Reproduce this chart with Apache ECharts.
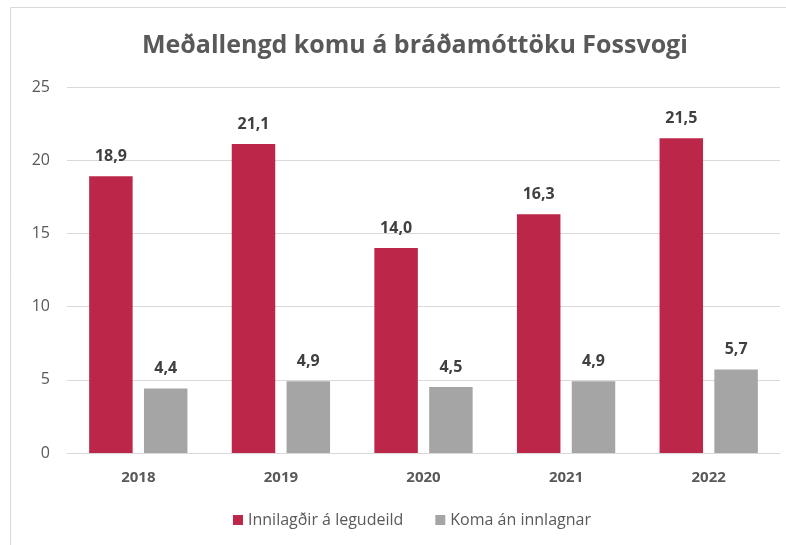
<!DOCTYPE html>
<html><head><meta charset="utf-8">
<script src="https://cdn.jsdelivr.net/npm/echarts@6/dist/echarts.min.js"></script>
<style>html,body{margin:0;padding:0;background:#fff}#c{width:786px;height:545px}</style>
</head><body><div id="c"></div>
<script>
const title = 'Meðallengd komu á bráðamóttöku Fossvogi';
const categories = ['2018','2019','2020','2021','2022'];
const seriesNames = ['Innilagðir á legudeild','Koma án innlagnar'];
const innilagdir = [18.9, 21.1, 14.0, 16.3, 21.5];
const komaAn = [4.4, 4.9, 4.5, 4.9, 5.7];
const yTicks = [0, 5, 10, 15, 20, 25];

const font = '"Open Sans", "Liberation Sans", sans-serif';
const chart = echarts.init(document.getElementById('c'), null, {renderer:'canvas'});
const fmt = p => p.value.toFixed(1).replace('.', ',');
const labelCfg = {show:true, position:'top', distance:12, formatter:fmt, color:'#404040', fontWeight:'bold', fontSize:16, fontFamily:font};
chart.setOption({
  animation:false,
  textStyle:{fontFamily:font},
  title:{text:title, left:137, top:28, textStyle:{fontSize:25, fontWeight:'bold', color:'#595959', fontFamily:font}},
  graphic:[{type:'rect', shape:{x:10.5, y:7.5, width:900, height:700}, style:{fill:'none', stroke:'#D9D9D9', lineWidth:1}, silent:true}],
  legend:{bottom:12, left:228, itemWidth:10, itemHeight:10, itemGap:32, icon:'rect',
    textStyle:{fontSize:16, color:'#595959', fontFamily:font}, data:seriesNames},
  grid:{left:67, right:6, top:87, bottom:92, containLabel:false},
  xAxis:{type:'category', data:categories,
    axisLine:{lineStyle:{color:'#D9D9D9'}}, axisTick:{show:false},
    axisLabel:{color:'#595959', fontWeight:'bold', fontSize:15, margin:17, fontFamily:font}},
  yAxis:{type:'value', min:yTicks[0], max:yTicks[yTicks.length-1], interval:5,
    axisLine:{show:false}, axisTick:{show:false},
    splitLine:{lineStyle:{color:'#D9D9D9'}},
    axisLabel:{color:'#595959', fontSize:16, margin:17, fontFamily:font}},
  series:[
    {name:seriesNames[0], type:'bar', data:innilagdir, barWidth:'30.5%', barGap:'26%', itemStyle:{color:'#BC2649'}, label:labelCfg},
    {name:seriesNames[1], type:'bar', data:komaAn, barWidth:'30.5%', barGap:'26%', itemStyle:{color:'#A5A5A5'}, label:labelCfg}
  ]
});
</script></body></html>
